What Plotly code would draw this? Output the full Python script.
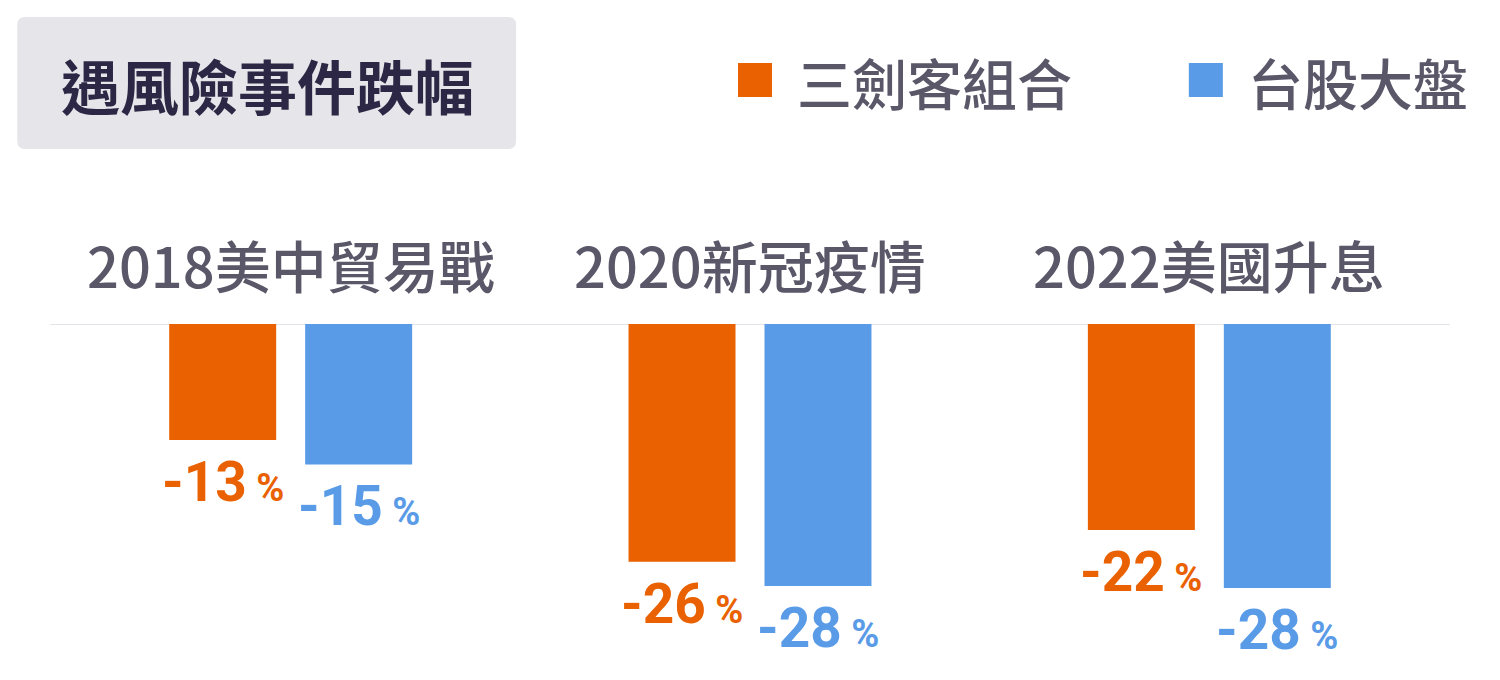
import plotly.graph_objects as go

# ---- data ----
categories = ["2018美中貿易戰", "2020新冠疫情", "2022美國升息"]
series_names = ["三劍客組合", "台股大盤"]
trio_values = [-12.4, -25.4, -22.0]
taiex_values = [-15.0, -28.0, -28.2]
trio_labels = ["-13", "-26", "-22"]
taiex_labels = ["-15", "-28", "-28"]
title_text = "遇風險事件跌幅"

# ---- style ----
ORANGE = "#E96100"
BLUE = "#5A9BE8"
TEXT_GRAY = "#5A5769"
TITLE_COLOR = "#2B2744"
BOX_BG = "#E6E5EA"
CJK = "Noto Sans CJK TC, Noto Sans CJK SC, sans-serif"
NUM = "Roboto, Noto Sans, sans-serif"

W, H = 1500, 680
L, R, T, B = 60.75, 60.75, 324, 20
PW = W - L - R
PH = H - T - B
PX_PER_UNIT = 9.36
BARGAP = 0.408
BARGROUPGAP = 0.2132
slot = PW / len(categories) * (1 - BARGAP) / 2


def px_x(px):
    return (px - L) / PW


def px_y(py):
    return (H - B - py) / PH


fig = go.Figure()
fig.add_bar(x=categories, y=trio_values, name=series_names[0],
            marker=dict(color=ORANGE, line=dict(width=0)), showlegend=False)
fig.add_bar(x=categories, y=taiex_values, name=series_names[1],
            marker=dict(color=BLUE, line=dict(width=0)), showlegend=False)

annotations = []
# value labels
for vals, labs, color, shift in [(trio_values, trio_labels, ORANGE, -slot / 2),
                                 (taiex_values, taiex_labels, BLUE, slot / 2)]:
    for c, v, lab in zip(categories, vals, labs):
        annotations.append(dict(
            x=c, y=v, xref="x", yref="y", xshift=shift, yshift=-42,
            text=f"<b>{lab}</b><span style='font-size:38px'><b> %</b></span>",
            showarrow=False, xanchor="center", yanchor="middle",
            font=dict(family=NUM, size=55, color=color)))
# category labels
for c in categories:
    annotations.append(dict(
        x=c, y=0, xref="x", yref="y", yshift=61, text=c, showarrow=False,
        xanchor="center", yanchor="middle",
        font=dict(family=CJK, size=56, color=TEXT_GRAY, weight=500)))
# title
annotations.append(dict(
    x=px_x(267), y=px_y(84), xref="paper", yref="paper", text=f"<b>{title_text}</b>",
    showarrow=False, xanchor="center", yanchor="middle",
    font=dict(family=CJK, size=59, color=TITLE_COLOR)))
# legend text
for name, xpx in zip(series_names, [795, 1246]):
    annotations.append(dict(
        x=px_x(xpx), y=px_y(81), xref="paper", yref="paper", text=name,
        showarrow=False, xanchor="left", yanchor="middle",
        font=dict(family=CJK, size=55, color=TEXT_GRAY, weight=500)))

shapes = []
# rounded title box
x0, x1, y0, y1, r = 17, 516, 17, 149, 8
def P(px, py):
    return f"{px_x(px)},{px_y(py)}"
path = (f"M {P(x0 + r, y0)} L {P(x1 - r, y0)} Q {P(x1, y0)} {P(x1, y0 + r)} "
        f"L {P(x1, y1 - r)} Q {P(x1, y1)} {P(x1 - r, y1)} "
        f"L {P(x0 + r, y1)} Q {P(x0, y1)} {P(x0, y1 - r)} "
        f"L {P(x0, y0 + r)} Q {P(x0, y0)} {P(x0 + r, y0)} Z")
shapes.append(dict(type="path", path=path, xref="paper", yref="paper",
                   fillcolor=BOX_BG, line=dict(width=0), layer="below"))
# legend swatches
for color, xpx in zip([ORANGE, BLUE], [738, 1189]):
    shapes.append(dict(type="rect", xref="paper", yref="paper",
                       x0=px_x(xpx), x1=px_x(xpx + 34), y0=px_y(97), y1=px_y(63),
                       fillcolor=color, line=dict(width=0)))
# baseline
shapes.append(dict(type="line", xref="paper", yref="y",
                   x0=px_x(50), x1=px_x(1450), y0=0, y1=0,
                   line=dict(color="#E3E3E9", width=2), layer="below"))

fig.update_layout(
    width=W, height=H, autosize=False,
    margin=dict(l=L, r=R, t=T, b=B, pad=0),
    paper_bgcolor="white", plot_bgcolor="white",
    barmode="group", bargap=BARGAP, bargroupgap=BARGROUPGAP,
    xaxis=dict(visible=False, type="category", range=[-0.5, 2.5]),
    yaxis=dict(visible=False, range=[-PH / PX_PER_UNIT, 0], showgrid=False, zeroline=False),
    annotations=annotations, shapes=shapes,
)
fig.update_traces(cliponaxis=False)

fig.write_html("out.html", config={"displayModeBar": False})
